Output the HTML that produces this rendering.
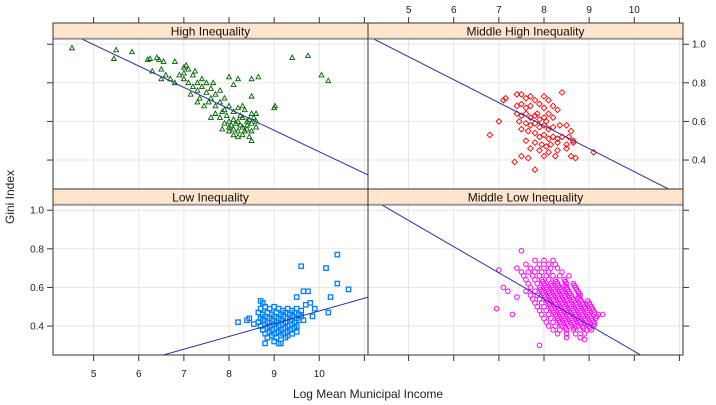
<!DOCTYPE html>
<html><head><meta charset="utf-8"><style>
html,body{margin:0;padding:0;background:#fff;}
svg{display:block;font-family:"Liberation Sans",sans-serif;}
</style></head><body>
<svg id="chart" width="716" height="405" viewBox="0 0 716 405" xmlns="http://www.w3.org/2000/svg">
<text x="14" y="197" font-size="12" fill="#222" text-anchor="middle" transform="rotate(-90 14 197)">Gini Index</text>
<text x="368" y="398" font-size="12" fill="#222" text-anchor="middle">Log Mean Municipal Income</text>
</svg>
<script>
const panelNames=["High Inequality","Middle High Inequality","Low Inequality","Middle Low Inequality"];
const xTicks=[5,6,7,8,9,10,11];
const xTickLabels=["5","6","7","8","9","10",""];
const yTicks=[0.4,0.6,0.8,1.0];
const yTickLabels=["0.4","0.6","0.8","1.0"];
const lineIntercepts=[1.553,1.530,-0.182,1.625];
const lineSlopes=[-0.111,-0.119,0.066,-0.1356];
const highPts=[[4.52,.98],[5.5,.97],[5.45,.925],[5.85,.96],[6.2,.92],[6.25,.925],[6.4,.93],[6.45,.92],[6.55,.91],[6.8,.91],[6.3,.86],[6.5,.87],[6.6,.84],[6.5,.82],[6.7,.82],[6.8,.8],[6.9,.84],[7.0,.85],[7.0,.88],[7.05,.89],[7.1,.87],[7.0,.82],[7.1,.8],[7.2,.84],[7.25,.86],[7.2,.78],[7.3,.8],[7.4,.82],[7.3,.76],[7.4,.78],[7.5,.8],[7.5,.75],[7.6,.77],[7.6,.72],[7.7,.74],[7.8,.76],[7.35,.72],[7.45,.68],[7.55,.7],[7.7,.68],[7.8,.7],[7.9,.72],[7.9,.66],[8.0,.68],[7.95,.63],[8.1,.65],[8.2,.67],[8.3,.68],[7.7,.64],[7.8,.62],[7.6,.62],[7.9,.59],[8.0,.6],[8.1,.61],[8.2,.6],[8.3,.62],[8.4,.6],[8.5,.59],[8.6,.6],[8.0,.57],[8.1,.56],[8.2,.55],[8.3,.57],[8.4,.56],[8.5,.55],[8.6,.57],[8.1,.53],[8.2,.52],[8.3,.53],[8.45,.52],[8.5,.5],[8.0,.55],[7.85,.56],[8.6,.64],[8.5,.64],[8.0,.83],[8.2,.82],[8.5,.82],[8.65,.83],[8.1,.79],[8.5,.73],[9.0,.67],[9.02,.68],[8.35,.66],[8.25,.58],[8.4,.58],[8.55,.62],[7.65,.8],[7.15,.74],[7.3,.7],[8.05,.58],[8.15,.59],[8.35,.55],[8.25,.63],[7.85,.65],[8.45,.61],[9.4,.93],[9.75,.94],[10.05,.84],[10.2,.81]];
const midHighPts=[[6.8,.53],[7.0,.6],[7.1,.71],[7.15,.72],[8.4,.75],[9.1,.44],[7.8,.35],[7.35,.39],[7.4,.74],[7.5,.74],[7.6,.72],[7.7,.73],[7.8,.71],[8.0,.73],[8.1,.71],[7.4,.68],[7.5,.69],[7.6,.67],[7.7,.68],[7.9,.69],[8.0,.67],[8.2,.68],[8.3,.66],[7.4,.64],[7.5,.63],[7.6,.64],[7.7,.62],[7.8,.63],[7.9,.61],[8.0,.62],[8.1,.64],[8.2,.62],[7.45,.6],[7.6,.59],[7.7,.58],[7.8,.59],[7.9,.57],[8.0,.58],[8.1,.56],[8.2,.57],[8.35,.58],[8.5,.58],[7.5,.56],[7.65,.55],[7.8,.54],[7.9,.52],[8.0,.53],[8.1,.51],[8.2,.52],[8.3,.51],[8.4,.52],[8.55,.52],[8.65,.5],[7.6,.5],[7.8,.49],[7.95,.48],[8.05,.47],[8.15,.48],[8.3,.49],[8.5,.48],[8.65,.49],[7.7,.46],[7.9,.45],[8.1,.44],[8.3,.45],[8.6,.42],[7.5,.42],[7.65,.41],[8.0,.42],[8.7,.41],[8.5,.46],[8.6,.55],[8.25,.42],[7.85,.64],[8.05,.6]];
const lowPts=[[8.2,.42],[8.45,.44],[8.4,.43],[8.55,.41],[9.6,.71],[10.15,.7],[10.4,.77],[10.4,.62],[10.65,.59],[10.25,.55],[9.75,.58],[9.65,.58],[9.5,.55],[9.7,.51],[9.8,.52],[9.85,.45],[10.2,.47],[9.9,.49],[8.75,.52],[8.7,.53],
[8.7,.49],[8.8,.5],[8.9,.49],[9.0,.5],[9.1,.49],[9.2,.48],[9.3,.49],[9.4,.48],[9.5,.49],
[8.65,.47],[8.75,.46],[8.85,.47],[8.95,.46],[9.05,.47],[9.15,.46],[9.25,.47],[9.35,.46],[9.45,.47],[9.55,.46],
[8.7,.44],[8.8,.45],[8.9,.44],[9.0,.45],[9.1,.44],[9.2,.45],[9.3,.44],[9.4,.45],[9.5,.44],[9.6,.45],
[8.65,.42],[8.75,.43],[8.85,.42],[8.95,.43],[9.05,.42],[9.15,.43],[9.25,.42],[9.35,.43],[9.45,.42],[9.55,.43],
[8.7,.4],[8.8,.41],[8.9,.4],[9.0,.41],[9.1,.4],[9.2,.41],[9.3,.4],[9.4,.41],[9.5,.4],
[8.75,.38],[8.85,.39],[8.95,.38],[9.05,.39],[9.15,.38],[9.25,.39],[9.35,.38],[9.45,.39],
[8.8,.36],[8.9,.37],[9.0,.36],[9.1,.37],[9.2,.36],[9.3,.37],[9.4,.36],
[8.85,.34],[8.95,.35],[9.05,.34],[9.15,.35],[9.25,.34],[9.5,.37],
[8.8,.31],[9.0,.32],[9.1,.31],[9.15,.31],[9.3,.35],[9.6,.48],[9.65,.43]];
const midLowY=[.74,.72,.70,.68,.66,.64,.62,.60,.58,.56,.54,.52,.50,.48,.46,.44,.42,.40,.38,.36,.34];
const midLowX=[[7.8,8.0,8.2],[7.6,7.9,8.1,8.25],[7.4,7.7,7.85,8.0,8.15,8.3],[7.5,7.65,7.8,7.95,8.1,8.4],[7.55,7.75,7.9,8.05,8.2,8.35,8.55],[7.6,7.8,7.95,8.1,8.25,8.45],[7.65,7.85,8.0,8.15,8.3,8.5,8.65],[7.7,7.9,8.05,8.2,8.35,8.5,8.7],[7.6,7.8,7.95,8.1,8.25,8.4,8.55,8.75],[7.7,7.85,8.0,8.15,8.3,8.45,8.6,8.8],[7.75,7.9,8.05,8.2,8.35,8.5,8.65,8.8],[7.8,7.95,8.1,8.25,8.4,8.55,8.7,8.85,9.0],[7.85,8.0,8.15,8.3,8.45,8.6,8.75,8.9,9.05],[7.9,8.05,8.2,8.35,8.5,8.65,8.8,8.95,9.1],[7.95,8.1,8.25,8.4,8.55,8.7,8.85,9.0,9.2],[8.0,8.15,8.3,8.45,8.6,8.75,8.9,9.05,9.15],[8.05,8.2,8.35,8.5,8.65,8.8,8.95,9.1],[8.1,8.25,8.4,8.55,8.7,8.85,9.0,9.1],[8.2,8.35,8.5,8.65,8.8,8.95,9.05],[8.3,8.5,8.7,8.9],[8.5,8.8]];
const midLowY2=[.63,.61,.59,.57,.55,.53,.51,.49,.47,.45,.43,.41,.39];
const midLowX2=[[7.9,8.2,8.4],[7.95,8.1,8.25,8.4,8.6],[7.85,8.0,8.15,8.3,8.45,8.65],[7.9,8.05,8.2,8.35,8.5,8.7],[7.95,8.1,8.25,8.4,8.55,8.7],[8.0,8.15,8.3,8.45,8.6,8.75,8.9],[8.05,8.2,8.35,8.5,8.65,8.8,8.95],[8.1,8.25,8.4,8.55,8.7,8.85,9.0],[8.15,8.3,8.45,8.6,8.75,8.9,9.05],[8.2,8.35,8.5,8.65,8.8,8.95,9.1],[8.25,8.4,8.55,8.7,8.85,9.0],[8.3,8.45,8.6,8.75,8.9,9.05],[8.4,8.6,8.8,8.95]];
const midLowOutliers=[[7.0,.69],[6.95,.49],[7.5,.79],[7.1,.6],[7.3,.46],[7.9,.3],[8.9,.33],[7.2,.58],[7.4,.55],[9.3,.46]];

const NS="http://www.w3.org/2000/svg";
const svg=document.getElementById("chart");
const XMIN=4.1,XMAX=11.08,YMIN=0.25,YMAX=1.027;
const panelLeft=[53,368,53,368],panelTop=[39,39,205,205],PW=315,PH=150;
function sx(v,p){return panelLeft[p]+(v-XMIN)/(XMAX-XMIN)*PW;}
function sy(v,p){return panelTop[p]+(YMAX-v)/(YMAX-YMIN)*PH;}
function mk(tag,attrs,parent){const e=document.createElementNS(NS,tag);for(const k in attrs)e.setAttribute(k,attrs[k]);(parent||svg).appendChild(e);return e;}

const defs=mk("defs",{});
for(let p=0;p<4;p++){
  const cp=mk("clipPath",{id:"clip"+p},defs);
  mk("rect",{x:panelLeft[p],y:panelTop[p],width:PW,height:PH},cp);
}
const series=[highPts,midHighPts,lowPts,[]];
midLowY.forEach((y,i)=>midLowX[i].forEach(x=>series[3].push([x,y])));
midLowY2.forEach((y,i)=>midLowX2[i].forEach(x=>series[3].push([x+0.07,y])));
midLowOutliers.forEach(pt=>series[3].push(pt));
const colors=["#006400","#ff0000","#0080ff","#ff00ff"];
const slugs=["high","middle-high","low","middle-low"];

for(let p=0;p<4;p++){
  const g=mk("g",{});
  
  
  xTicks.forEach(t=>{const l=mk("line",{x1:sx(t,p),x2:sx(t,p),y1:panelTop[p],y2:panelTop[p]+PH,stroke:"#e6e6e6","stroke-width":1},g);
    });
  yTicks.forEach(t=>{const l=mk("line",{x1:panelLeft[p],x2:panelLeft[p]+PW,y1:sy(t,p),y2:sy(t,p),stroke:"#e6e6e6","stroke-width":1},g);
    });
  const pg=mk("g",{"clip-path":"url(#clip"+p+")"},g);
  series[p].forEach(([vx,vy])=>{
    const cx=sx(vx,p),cy=sy(vy,p);let m;
    if(p===0) m=mk("polygon",{points:`${cx},${cy-2.6} ${cx-2.4},${cy+1.8} ${cx+2.4},${cy+1.8}`,fill:"none",stroke:colors[p],"stroke-width":0.9},pg);
    else if(p===1) m=mk("polygon",{points:`${cx},${cy-2.8} ${cx+2.8},${cy} ${cx},${cy+2.8} ${cx-2.8},${cy}`,fill:"none",stroke:colors[p],"stroke-width":0.9},pg);
    else if(p===2) m=mk("rect",{x:cx-2.2,y:cy-2.2,width:4.4,height:4.4,fill:"none",stroke:colors[p],"stroke-width":1.3},pg);
    else m=mk("circle",{cx:cx,cy:cy,r:2.3,fill:"none",stroke:colors[p],"stroke-width":1},pg);
    
    
  });
  const ln=mk("line",{x1:sx(XMIN,p),y1:sy(lineIntercepts[p]+lineSlopes[p]*XMIN,p),x2:sx(XMAX,p),y2:sy(lineIntercepts[p]+lineSlopes[p]*XMAX,p),stroke:"#2e2e9e","stroke-width":1,"clip-path":"url(#clip"+p+")"},g);
  
  
  const st=mk("rect",{x:panelLeft[p],y:panelTop[p]-16,width:PW,height:16,fill:"#ffe5cc",stroke:"#333","stroke-width":1},g);
  
  
  mk("line",{x1:panelLeft[p],x2:panelLeft[p]+PW,y1:panelTop[p]-0.5,y2:panelTop[p]-0.5,stroke:"#999","stroke-width":1.5},g);
  const tt=mk("text",{x:panelLeft[p]+PW/2,y:panelTop[p]-3.5,"font-size":12,"text-anchor":"middle",fill:"#111"},g);
  tt.textContent=panelNames[p];
  
  
  const bd=mk("rect",{x:panelLeft[p],y:panelTop[p]-16,width:PW,height:PH+16,fill:"none",stroke:"#333","stroke-width":1},g);
  
  
}
const axG=mk("g",{});


const topY=23,botY=355,leftX=53,rightX=683;
[0,1].forEach(p=>{xTicks.forEach((t,i)=>{
  mk("line",{x1:sx(t,p),x2:sx(t,p),y1:topY,y2:topY-6,stroke:"#333"},axG);
  if(p===1&&xTickLabels[i]){const tx=mk("text",{x:sx(t,p),y:13,"font-size":10,"text-anchor":"middle",fill:"#222"},axG);tx.textContent=xTickLabels[i];
    }
});});
[2,3].forEach(p=>{xTicks.forEach((t,i)=>{
  mk("line",{x1:sx(t,p),x2:sx(t,p),y1:botY,y2:botY+6,stroke:"#333"},axG);
  if(p===2&&xTickLabels[i]){const tx=mk("text",{x:sx(t,p),y:377,"font-size":10,"text-anchor":"middle",fill:"#222"},axG);tx.textContent=xTickLabels[i];
    }
});});
[0,2].forEach(p=>{yTicks.forEach((t,i)=>{
  mk("line",{x1:leftX,x2:leftX-6,y1:sy(t,p),y2:sy(t,p),stroke:"#333"},axG);
  if(p===2){const tx=mk("text",{x:leftX-9,y:sy(t,p)+3.5,"font-size":10,"text-anchor":"end",fill:"#222"},axG);tx.textContent=yTickLabels[i];
    }
});});
[1,3].forEach(p=>{yTicks.forEach((t,i)=>{
  mk("line",{x1:rightX,x2:rightX+6,y1:sy(t,p),y2:sy(t,p),stroke:"#333"},axG);
  if(p===1){const tx=mk("text",{x:rightX+9,y:sy(t,p)+3.5,"font-size":10,"text-anchor":"start",fill:"#222"},axG);tx.textContent=yTickLabels[i];
    }
});});
</script>
</body></html>
